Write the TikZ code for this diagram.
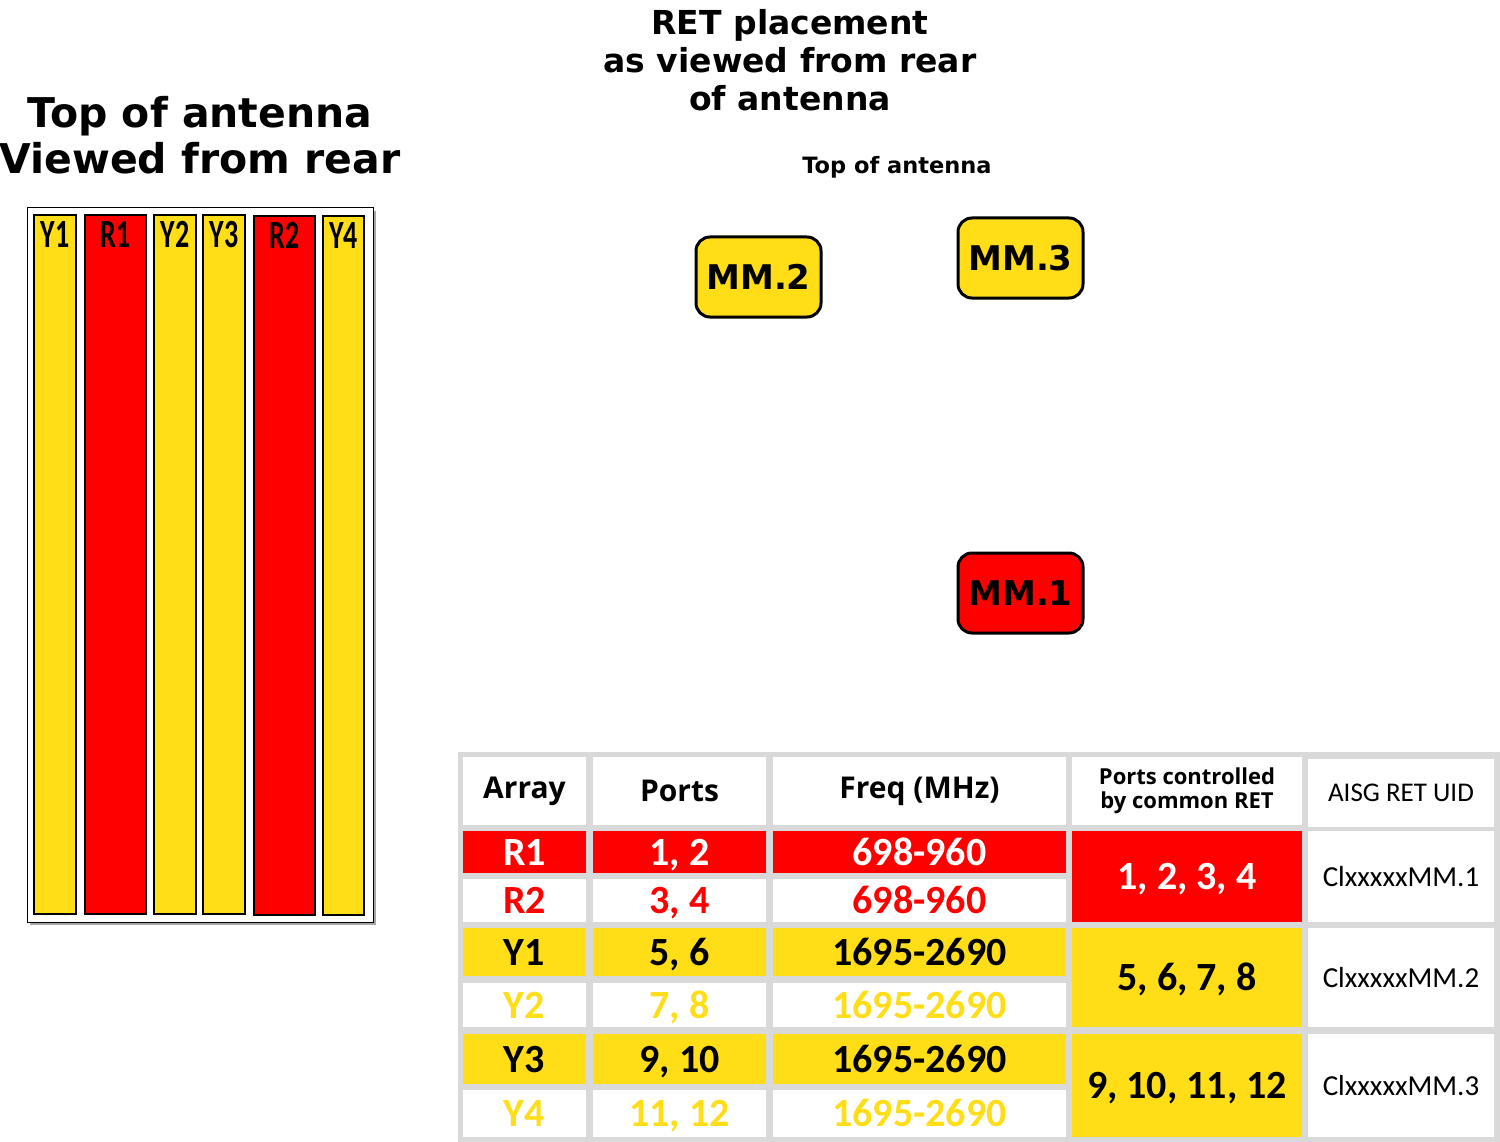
\documentclass[tikz,border=0pt]{standalone}
\usepackage{fontspec}
\setmainfont{Carlito}
\newfontfamily\titlefont{DejaVu Sans}
\newfontfamily\headfont{Open Sans}
\usetikzlibrary{positioning}
\definecolor{retyellow}{RGB}{255,222,23}
\definecolor{retred}{RGB}{255,0,0}
\definecolor{gridgray}{RGB}{217,217,217}
\newcommand{\elemtxt}[1]{\scalebox{0.7}[1]{#1}}

\begin{document}
\begin{tikzpicture}[x=1pt,y=-1pt,
                    every node/.style={inner sep=0pt},
                    headline/.style={align=center,font=\titlefont\bfseries\fontsize{41}{46}\selectfont},
                    elem/.style={draw=black,line width=1.5pt,minimum width=#1,minimum height=699pt},
                    elemlabel/.style={font=\bfseries\fontsize{40}{48}\selectfont,text height=26pt,text depth=0pt},
                    retbox/.style={draw=black,line width=3pt,rounded corners=14pt,minimum width=125pt,
                                   minimum height=80pt,font=\titlefont\bfseries\fontsize{34}{40}\selectfont},
                    cell/.style 2 args={minimum width=#1,minimum height=#2},
                    val/.style={font=\bfseries\fontsize{40}{48}\selectfont,text height=26pt,text depth=0pt},
                    uid/.style={fill=white,font=\fontsize{29}{34}\selectfont,text height=19pt,text depth=0pt}]
    \useasboundingbox (0,0) rectangle (1500,1142);

    %Titles
    \node[headline] (lefttitle) at (200,135) {Top of antenna\\Viewed from rear};
    \node[headline,font=\titlefont\bfseries\fontsize{33}{38}\selectfont] (righttitle) at (790,60)
        {RET placement\\as viewed from rear\\of antenna};
    \node[font=\titlefont\bfseries\fontsize{22.5}{27}\selectfont] (topnote) at (897,167) {Top of antenna};

    %Antenna seen from rear
    \fill[gray!70] (30,211) rectangle (376,925);
    \node[draw=black,fill=white,line width=1pt,minimum width=346pt,minimum height=714pt] (panel) at (200,565) {};
    \node[elem=42pt,fill=retyellow] (y1) at (55,564.5) {};
    \node[elem=61pt,fill=retred] (r1) at (115.5,564.5) {};
    \node[elem=42pt,fill=retyellow] (y2) at (175,564.5) {};
    \node[elem=42pt,fill=retyellow] (y3) at (224,564.5) {};
    \node[elem=61pt,fill=retred] (r2) at (284.5,565.5) {};
    \node[elem=41pt,fill=retyellow] (y4) at (343.5,565.5) {};
    \node[elemlabel,below=7pt of y1.north] (y1lab) {\elemtxt{Y1}};
    \node[elemlabel,below=7pt of r1.north] (r1lab) {\elemtxt{R1}};
    \node[elemlabel,below=7pt of y2.north] (y2lab) {\elemtxt{Y2}};
    \node[elemlabel,below=7pt of y3.north] (y3lab) {\elemtxt{Y3}};
    \node[elemlabel,below=7pt of r2.north] (r2lab) {\elemtxt{R2}};
    \node[elemlabel,below=7pt of y4.north] (y4lab) {\elemtxt{Y4}};

    %RET boxes
    \node[retbox,fill=retyellow] (mm2) at (758.5,277) {MM.2};
    \node[retbox,fill=retyellow] (mm3) at (1020.5,258) {MM.3};
    \node[retbox,fill=retred] (mm1) at (1020.5,593) {MM.1};

    %Table
    \fill[gridgray] (458,752) rectangle (1500,1142);
    % header row
    \node[cell={123pt}{68pt},fill=white,font=\headfont\bfseries\fontsize{30}{36}\selectfont] (harray) at (524.5,791) {Array};
    \node[cell={173pt}{68pt},fill=white,font=\headfont\bfseries\fontsize{30}{36}\selectfont] (hports) at (679.5,791) {Ports};
    \node[cell={293pt}{68pt},fill=white,font=\headfont\bfseries\fontsize{30}{36}\selectfont] (hfreq) at (919.5,791) {Freq (MHz)};
    \node[cell={230pt}{68pt},fill=white,align=center,font=\headfont\bfseries\fontsize{22}{24}\selectfont] (hret) at (1187,791)
        {Ports controlled\\by common RET};
    \node[cell={186pt}{68pt},fill=white,font=\fontsize{27}{32}\selectfont] (huid) at (1401,793) {AISG RET UID};
    % R1, R2
    \node[cell={123pt}{42pt},val,fill=retred,text=white] (ar1) at (524.5,852) {R1};
    \node[cell={173pt}{42pt},val,fill=retred,text=white] (pr1) at (679.5,852) {1, 2};
    \node[cell={293pt}{42pt},val,fill=retred,text=white] (fr1) at (919.5,852) {698-960};
    \node[cell={123pt}{43pt},val,fill=white,text=retred] (ar2) at (524.5,900.5) {R2};
    \node[cell={173pt}{43pt},val,fill=white,text=retred] (pr2) at (679.5,900.5) {3, 4};
    \node[cell={293pt}{43pt},val,fill=white,text=retred] (fr2) at (919.5,900.5) {698-960};
    % Y1, Y2
    \node[cell={123pt}{48pt},val,fill=retyellow] (ay1) at (524.5,952) {Y1};
    \node[cell={173pt}{48pt},val,fill=retyellow] (py1) at (679.5,952) {5, 6};
    \node[cell={293pt}{48pt},val,fill=retyellow] (fy1) at (919.5,952) {1695-2690};
    \node[cell={123pt}{44pt},val,fill=white,text=retyellow] (ay2) at (524.5,1005) {Y2};
    \node[cell={173pt}{44pt},val,fill=white,text=retyellow] (py2) at (679.5,1005) {7, 8};
    \node[cell={293pt}{44pt},val,fill=white,text=retyellow] (fy2) at (919.5,1005) {1695-2690};
    % Y3, Y4
    \node[cell={123pt}{50pt},val,fill=retyellow] (ay3) at (524.5,1059) {Y3};
    \node[cell={173pt}{50pt},val,fill=retyellow] (py3) at (679.5,1059) {9, 10};
    \node[cell={293pt}{50pt},val,fill=retyellow] (fy3) at (919.5,1059) {1695-2690};
    \node[cell={123pt}{47pt},val,fill=white,text=retyellow] (ay4) at (524.5,1113.5) {Y4};
    \node[cell={173pt}{47pt},val,fill=white,text=retyellow] (py4) at (679.5,1113.5) {11, 12};
    \node[cell={293pt}{47pt},val,fill=white,text=retyellow] (fy4) at (919.5,1113.5) {1695-2690};
    % common RET and UID
    \node[cell={230pt}{91pt},val,fill=retred,text=white] (ret1) at (1187,876.5) {1, 2, 3, 4};
    \node[cell={230pt}{99pt},val,fill=retyellow] (ret2) at (1187,977.5) {5, 6, 7, 8};
    \node[cell={230pt}{103pt},val,fill=retyellow] (ret3) at (1187,1085.5) {9, 10, 11, 12};
    \node[cell={186pt}{91pt},uid] (uid1) at (1401,876.5) {ClxxxxxMM.1};
    \node[cell={186pt}{99pt},uid] (uid2) at (1401,977.5) {ClxxxxxMM.2};
    \node[cell={186pt}{103pt},uid] (uid3) at (1401,1085.5) {ClxxxxxMM.3};
\end{tikzpicture}
\end{document}
